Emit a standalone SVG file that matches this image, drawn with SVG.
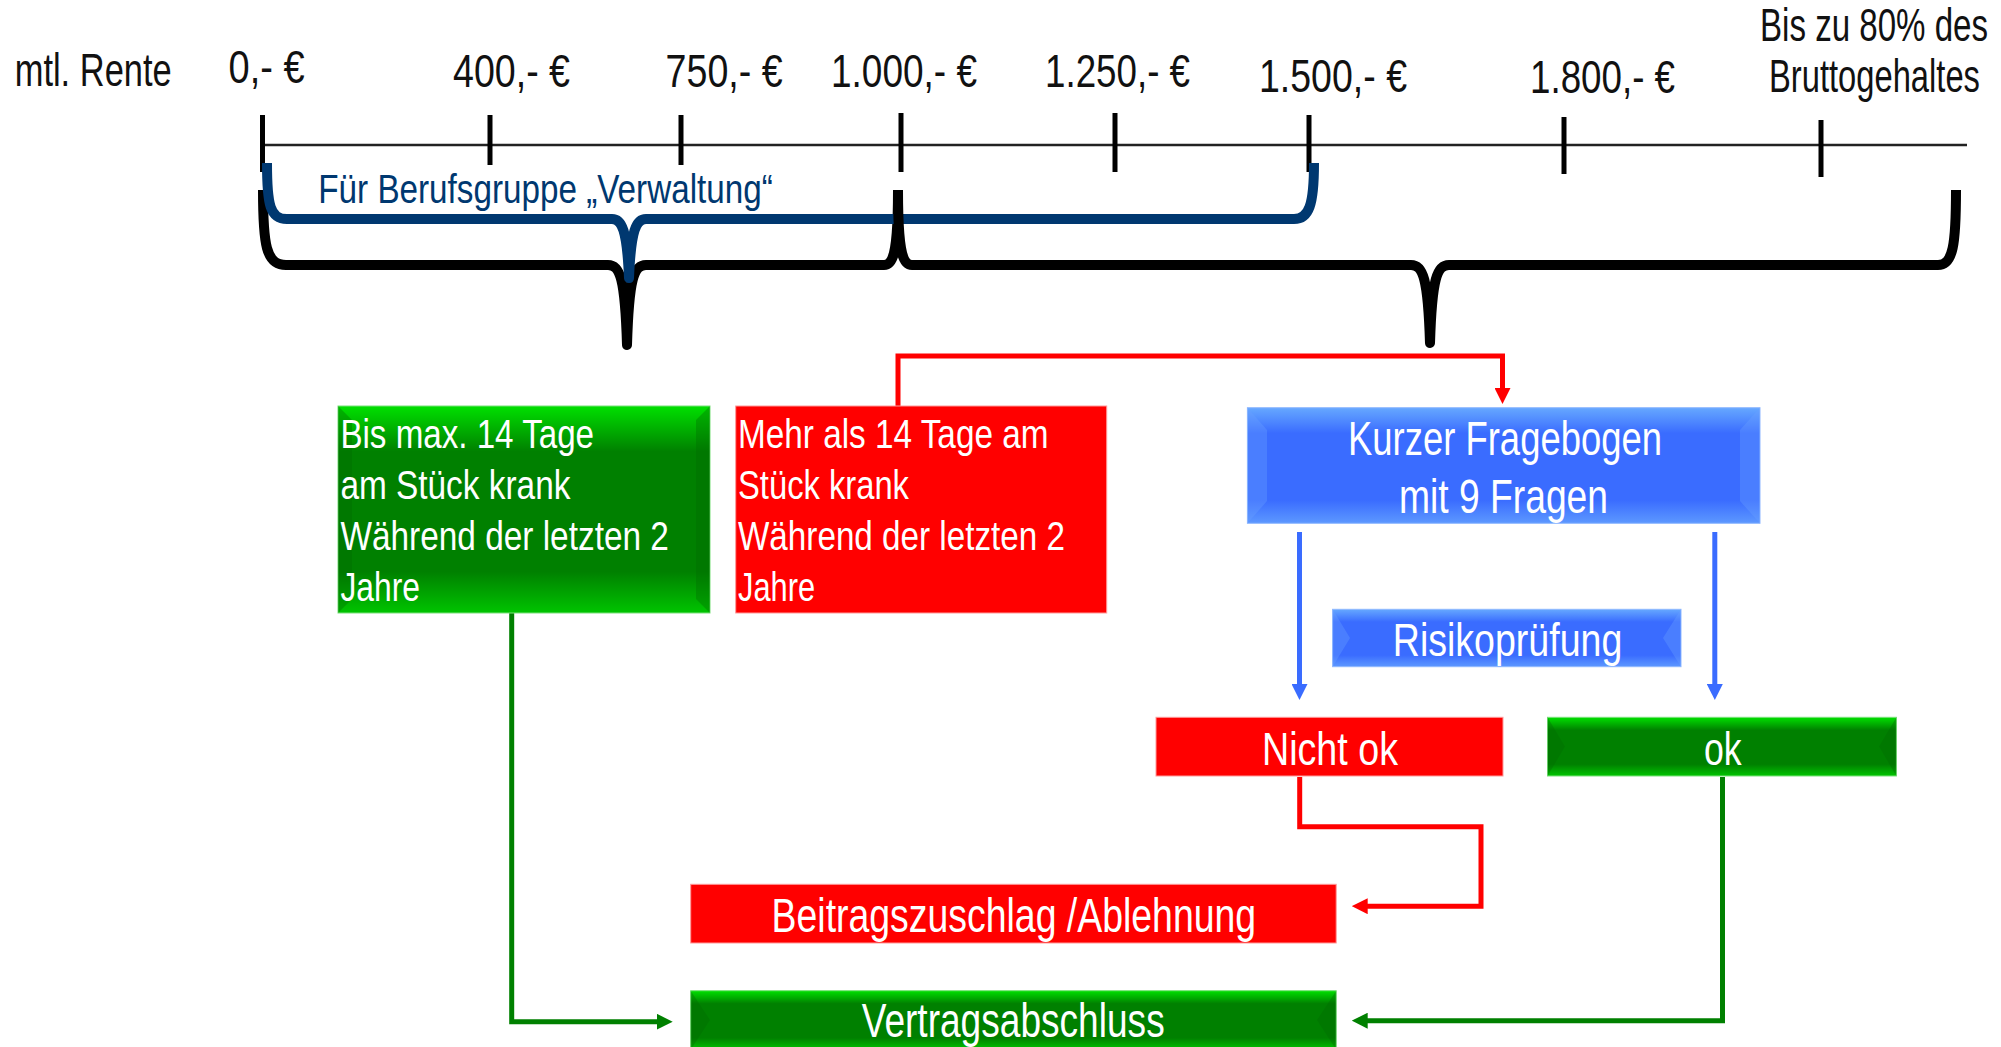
<svg xmlns="http://www.w3.org/2000/svg" width="2001" height="1047" viewBox="0 0 2001 1047">
<defs>
<style>
.t{font-family:"Liberation Sans Narrow","Liberation Sans",Arial,sans-serif;}
.lbl{fill:#111111;font-size:45.5px;}
.w{fill:#ffffff;}
.bx{font-size:41px;}
.tick{stroke:#000;stroke-width:5;}
.brace{fill:none;stroke:#000;stroke-width:10;stroke-linejoin:round;stroke-linecap:butt;}
.bbrace{fill:none;stroke:#003870;stroke-width:10;stroke-linejoin:round;}
.cr{fill:none;stroke:#ff0000;stroke-width:5;}
.cg{fill:none;stroke:#008000;stroke-width:5;}
.cb{fill:none;stroke:#3a6cff;stroke-width:5;}
.red{fill:#ff0000;stroke:#ff9a9a;stroke-width:1;}
.grn{fill:url(#gG);stroke:#7be07b;stroke-width:1;}
.blu{fill:url(#gB);stroke:#8fb8ff;stroke-width:1;}
.gsd{fill:#006a00;opacity:0.35;}
.bsd{fill:#6aa0ff;opacity:0.35;}
</style>
<linearGradient id="gG" x1="0" y1="0" x2="0" y2="1">
<stop offset="0" stop-color="#00e000"/>
<stop offset="0.22" stop-color="#008000"/>
<stop offset="0.8" stop-color="#008000"/>
<stop offset="1" stop-color="#00c400"/>
</linearGradient>
<linearGradient id="gB" x1="0" y1="0" x2="0" y2="1">
<stop offset="0" stop-color="#66a8ff"/>
<stop offset="0.22" stop-color="#3a6cff"/>
<stop offset="0.8" stop-color="#3a6cff"/>
<stop offset="1" stop-color="#5d98ff"/>
</linearGradient>
<marker id="aR" markerUnits="userSpaceOnUse" markerWidth="16" markerHeight="16" refX="4" refY="8" orient="auto"><path d="M0,0 L16,8 L0,16 Z" fill="#ff0000"/></marker>
<marker id="aG" markerUnits="userSpaceOnUse" markerWidth="16" markerHeight="16" refX="4" refY="8" orient="auto"><path d="M0,0 L16,8 L0,16 Z" fill="#008000"/></marker>
<marker id="aB" markerUnits="userSpaceOnUse" markerWidth="16" markerHeight="16" refX="4" refY="8" orient="auto"><path d="M0,0 L16,8 L0,16 Z" fill="#3a6cff"/></marker>
</defs>
<rect width="2001" height="1047" fill="#ffffff"/>

<g id="scale">
<line x1="265" y1="145" x2="1967" y2="145" stroke="#222" stroke-width="2.5"/>
<line class="tick" x1="262.5" y1="115" x2="262.5" y2="172"/>
<line class="tick" x1="490" y1="115" x2="490" y2="165"/>
<line class="tick" x1="681" y1="115" x2="681" y2="165"/>
<line class="tick" x1="901" y1="113" x2="901" y2="172"/>
<line class="tick" x1="1115" y1="113" x2="1115" y2="172"/>
<line class="tick" x1="1309" y1="115" x2="1309" y2="172"/>
<line class="tick" x1="1564" y1="117" x2="1564" y2="174"/>
<line class="tick" x1="1821" y1="120" x2="1821" y2="177"/>
<text class="t lbl" x="14.7" y="86" textLength="157" lengthAdjust="spacingAndGlyphs">mtl. Rente</text>
<text class="t lbl" x="228.6" y="83.3" textLength="76" lengthAdjust="spacingAndGlyphs">0,- €</text>
<text class="t lbl" x="453" y="87.3" textLength="117" lengthAdjust="spacingAndGlyphs">400,- €</text>
<text class="t lbl" x="665.6" y="87.3" textLength="117" lengthAdjust="spacingAndGlyphs">750,- €</text>
<text class="t lbl" x="831" y="87" textLength="146" lengthAdjust="spacingAndGlyphs">1.000,- €</text>
<text class="t lbl" x="1045" y="87" textLength="145" lengthAdjust="spacingAndGlyphs">1.250,- €</text>
<text class="t lbl" x="1259" y="91.7" textLength="148" lengthAdjust="spacingAndGlyphs">1.500,- €</text>
<text class="t lbl" x="1530" y="93" textLength="145" lengthAdjust="spacingAndGlyphs">1.800,- €</text>
<text class="t lbl" transform="translate(1760,40.7) scale(0.72,1)" x="0" y="0" textLength="316.7" lengthAdjust="spacingAndGlyphs">Bis zu 80% des</text>
<text class="t lbl" transform="translate(1769,91.7) scale(0.72,1)" x="0" y="0" textLength="293" lengthAdjust="spacingAndGlyphs">Bruttogehaltes</text>
</g>

<g id="brace-left">
<path class="brace" d="M263,190 C263,245 266,265 286,265 L608,265 C620,265 625,278 627,345 C629,278 634,265 646,265 L884,265 C894,265 898,250 898,190"/>
</g>
<g id="brace-verwaltung">
<path class="bbrace" d="M267,163 C267,205 270,219 287,219 L612,219 C622,219 627,230 629,278 C631,230 636,219 646,219 L1294,219 C1309,219 1314,205 1314,163"/>
<text class="t" x="318.3" y="203.3" font-size="41" fill="#003870" textLength="454.5" lengthAdjust="spacingAndGlyphs">Für Berufsgruppe „Verwaltung“</text>
</g>
<g id="brace-right">
<path class="brace" d="M898,190 C898,250 902,265 912,265 L1411,265 C1423,265 1428,278 1430,343 C1432,278 1437,265 1449,265 L1938,265 C1953,265 1956,245 1956,190"/>
</g>

<g id="connectors">
<path class="cr" d="M898,406 V356 H1502.5 V392" marker-end="url(#aR)"/>
<path class="cb" d="M1299.5,532 V688" marker-end="url(#aB)"/>
<path class="cb" d="M1714.8,532 V688" marker-end="url(#aB)"/>
<path class="cr" d="M1299.7,777 V826.7 H1481 V906.2 H1363.7" marker-end="url(#aR)"/>
<path class="cg" d="M1722.5,777 V1020.7 H1363.7" marker-end="url(#aG)"/>
<path class="cg" d="M511.7,613 V1021.7 H660.7" marker-end="url(#aG)"/>
</g>

<g id="node-bis14">
<rect class="grn" x="338" y="406" width="372" height="207"/>
<polygon class="gsd" points="338,406 352,420 352,599 338,613"/>
<polygon class="gsd" points="710,406 696,420 696,599 710,613"/>
<text class="t w bx" x="340.4" y="448.3" textLength="253.6" lengthAdjust="spacingAndGlyphs">Bis max. 14 Tage</text>
<text class="t w bx" x="340.4" y="498.8" textLength="230" lengthAdjust="spacingAndGlyphs">am Stück krank</text>
<text class="t w bx" x="340.4" y="550" textLength="328.5" lengthAdjust="spacingAndGlyphs">Während der letzten 2</text>
<text class="t w bx" x="340.4" y="601.2" textLength="79.5" lengthAdjust="spacingAndGlyphs">Jahre</text>
</g>

<g id="node-mehr14">
<rect class="red" x="735.7" y="406" width="371" height="207"/>
<text class="t w bx" x="738" y="448.3" textLength="310.5" lengthAdjust="spacingAndGlyphs">Mehr als 14 Tage am</text>
<text class="t w bx" x="738" y="498.8" textLength="171" lengthAdjust="spacingAndGlyphs">Stück krank</text>
<text class="t w bx" x="738" y="550" textLength="327" lengthAdjust="spacingAndGlyphs">Während der letzten 2</text>
<text class="t w bx" x="738" y="601.2" textLength="77" lengthAdjust="spacingAndGlyphs">Jahre</text>
</g>

<g id="node-fragebogen">
<rect class="blu" x="1247.4" y="407.7" width="512.6" height="115.6"/>
<polygon class="bsd" points="1247.4,407.7 1267,430 1267,501 1247.4,523.3"/>
<polygon class="bsd" points="1760,407.7 1740,430 1740,501 1760,523.3"/>
<text class="t w" font-size="48" x="1348" y="455" textLength="314" lengthAdjust="spacingAndGlyphs">Kurzer Fragebogen</text>
<text class="t w" font-size="48" x="1399" y="512.7" textLength="209" lengthAdjust="spacingAndGlyphs">mit 9 Fragen</text>
</g>

<g id="node-risiko">
<rect class="blu" x="1332.6" y="609.3" width="348.4" height="57.4"/>
<polygon class="bsd" points="1332.6,609.3 1350,638 1332.6,666.7"/>
<polygon class="bsd" points="1681,609.3 1663,638 1681,666.7"/>
<text class="t w" font-size="45.6" x="1392.8" y="656" textLength="229.5" lengthAdjust="spacingAndGlyphs">Risikoprüfung</text>
</g>

<g id="node-nichtok">
<rect class="red" x="1156" y="717.3" width="347" height="58.7"/>
<text class="t w" font-size="46.5" x="1262" y="765" textLength="136" lengthAdjust="spacingAndGlyphs">Nicht ok</text>
</g>

<g id="node-ok">
<rect class="grn" x="1547.5" y="717.3" width="348.9" height="58.7"/>
<polygon class="gsd" points="1547.5,717.3 1565,746.6 1547.5,776"/>
<polygon class="gsd" points="1896.4,717.3 1879,746.6 1896.4,776"/>
<text class="t w" font-size="46.5" x="1704" y="765" textLength="37.7" lengthAdjust="spacingAndGlyphs">ok</text>
</g>

<g id="node-beitrag">
<rect class="red" x="690.7" y="884.3" width="645.5" height="58.7"/>
<text class="t w" font-size="48" x="771.6" y="931.7" textLength="484.5" lengthAdjust="spacingAndGlyphs">Beitragszuschlag /Ablehnung</text>
</g>

<g id="node-vertrag">
<rect class="grn" x="690.7" y="990.7" width="645.5" height="59"/>
<polygon class="gsd" points="690.7,990.7 710,1020 690.7,1049.7"/>
<polygon class="gsd" points="1336.2,990.7 1317,1020 1336.2,1049.7"/>
<text class="t w" font-size="47.5" x="861.7" y="1036.7" textLength="303" lengthAdjust="spacingAndGlyphs">Vertragsabschluss</text>
</g>
</svg>
